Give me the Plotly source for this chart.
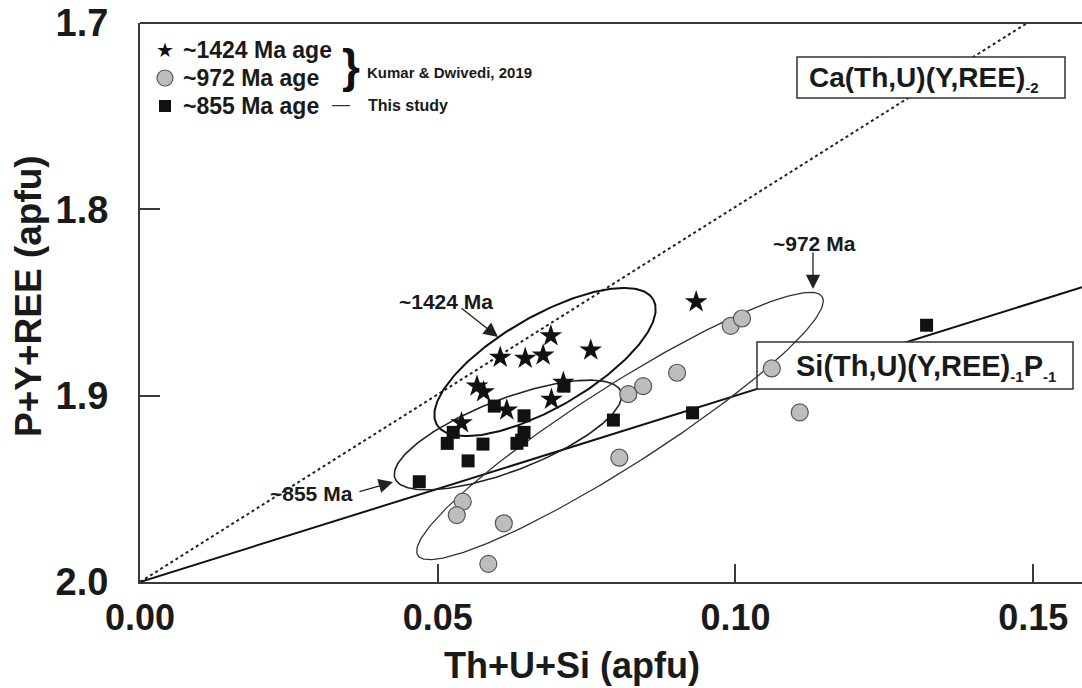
import numpy as np
import plotly.graph_objects as go

# ---------------- data ----------------
star_x = [0.0690, 0.0605, 0.0647, 0.0677, 0.0757, 0.0566, 0.0577, 0.0711, 0.0691, 0.0616, 0.0540, 0.0934]
star_y = [1.8679, 1.8795, 1.8800, 1.8783, 1.8756, 1.8949, 1.8980, 1.8929, 1.9020, 1.9078, 1.9146, 1.8497]

circ_x = [0.0992, 0.1011, 0.1061, 0.1108, 0.0902, 0.0845, 0.0820, 0.0805, 0.0542, 0.0532, 0.0611, 0.0585]
circ_y = [1.8625, 1.8586, 1.8854, 1.9090, 1.8877, 1.8949, 1.8992, 1.9333, 1.9569, 1.9641, 1.9685, 1.9903]

sq_x = [0.0712, 0.0595, 0.0645, 0.0526, 0.0516, 0.0576, 0.0645, 0.0641, 0.0633, 0.0551, 0.0469, 0.0795, 0.0928, 0.1321]
sq_y = [1.8949, 1.9056, 1.9108, 1.9197, 1.9256, 1.9260, 1.9197, 1.9239, 1.9256, 1.9350, 1.9462, 1.9131, 1.9092, 1.8622]

# reference substitution vectors (end points)
ca_line_x = [0.0, 0.1490]
ca_line_y = [2.0, 1.7000]
si_line_x = [0.0, 0.1582]
si_line_y = [2.0, 1.8418]

x_ticks = [0.00, 0.05, 0.10, 0.15]
x_tick_text = ["0.00", "0.05", "0.10", "0.15"]
y_ticks = [1.7, 1.8, 1.9, 2.0]
y_tick_text = ["1.7", "1.8", "1.9", "2.0"]

series_names = ["~1424 Ma age", "~972 Ma age", "~855 Ma age"]

# ---------------- layout geometry ----------------
W, H = 1082, 688
ML, MR, MT, MB = 140, 0, 23, 106
X_RANGE = [0, 0.1582]
Y_RANGE = [2.0, 1.7]
pw = W - ML - MR
ph = H - MT - MB
ppx = pw / (X_RANGE[1] - X_RANGE[0])
ppy = ph / abs(Y_RANGE[0] - Y_RANGE[1])


def px2x(px):
    return X_RANGE[0] + (px - ML) / ppx


def py2y(py):
    return Y_RANGE[1] + (py - MT) / ppy


def pxp(px):
    return (px - ML) / pw


def pyp(py):
    return (MT + ph - py) / ph


FONT = "Liberation Sans, Arial, sans-serif"
AX = "#3a3a3a"
TXT = "#1a1a1a"


def ellipse(cx, cy, a_px, b_px, ang_deg, n=240):
    t = np.linspace(0, 2 * np.pi, n)
    th = np.deg2rad(ang_deg)
    dx = a_px * np.cos(t) * np.cos(th) - b_px * np.sin(t) * np.sin(th)
    dy = a_px * np.cos(t) * np.sin(th) + b_px * np.sin(t) * np.cos(th)
    return px2x(cx + dx), py2y(cy - dy)


fig = go.Figure()

# ellipses (group outlines), centre / half-axes in pixels
for (cx, cy, a, b, ang, w, col) in [
    (545, 362, 125, 46, 30, 2.0, "#111111"),
    (508, 435, 121, 36, 21, 1.6, "#222222"),
    (620, 426, 240, 40, 32.6, 1.3, "#333333"),
]:
    ex, ey = ellipse(cx, cy, a, b, ang)
    fig.add_trace(go.Scatter(x=ex, y=ey, mode="lines", line=dict(color=col, width=w),
                             showlegend=False, hoverinfo="skip"))

fig.add_trace(go.Scatter(x=circ_x, y=circ_y, mode="markers", name=series_names[1], showlegend=False,
                         marker=dict(symbol="circle", size=17, color="#bdbdbd",
                                     line=dict(color="#555555", width=1.2))))
fig.add_trace(go.Scatter(x=star_x, y=star_y, mode="markers", name=series_names[0], showlegend=False,
                         marker=dict(symbol="star", size=17, color="#111111", line=dict(width=0))))
fig.add_trace(go.Scatter(x=sq_x, y=sq_y, mode="markers", name=series_names[2], showlegend=False,
                         marker=dict(symbol="square", size=13, color="#111111", line=dict(width=0))))

shapes = [
    dict(type="line", xref="x", yref="y", x0=ca_line_x[0], y0=ca_line_y[0], x1=ca_line_x[1], y1=ca_line_y[1],
         line=dict(color="#222222", width=2, dash="dot"), layer="below"),
    dict(type="line", xref="x", yref="y", x0=si_line_x[0], y0=si_line_y[0], x1=si_line_x[1], y1=si_line_y[1],
         line=dict(color="#111111", width=2), layer="below"),
    # label boxes (white, hide the vectors behind them)
    dict(type="rect", xref="x", yref="y", x0=px2x(797), x1=px2x(1065), y0=py2y(57), y1=py2y(98),
         fillcolor="white", line=dict(color="#333333", width=1.5), layer="below"),
    dict(type="rect", xref="x", yref="y", x0=px2x(757), x1=px2x(1073), y0=py2y(342), y1=py2y(389),
         fillcolor="white", line=dict(color="#333333", width=1.5), layer="below"),
    # top frame
    dict(type="line", xref="paper", yref="paper", x0=0, x1=1, y0=1, y1=1,
         line=dict(color=AX, width=2)),
    # legend symbols: circle and square
    dict(type="circle", xref="paper", yref="paper", xsizemode="pixel", ysizemode="pixel",
         xanchor=pxp(165), yanchor=pyp(78), x0=-8, x1=8, y0=-8, y1=8,
         fillcolor="#bdbdbd", line=dict(color="#555555", width=1.2)),
    dict(type="rect", xref="paper", yref="paper", xsizemode="pixel", ysizemode="pixel",
         xanchor=pxp(165), yanchor=pyp(106), x0=-6, x1=6, y0=-6, y1=6,
         fillcolor="#111111", line=dict(width=0)),
]

ann = []
lab_font = dict(family=FONT, size=21, color=TXT, weight="bold")


def note(text, px, py, font, xanchor="center", yanchor="middle", **kw):
    ann.append(dict(x=pxp(px), y=pyp(py), xref="paper", yref="paper", text=text, showarrow=False,
                    xanchor=xanchor, yanchor=yanchor, font=font, **kw))


# group labels (pixel centres)
for txt, px, py in [("~1424 Ma", 446, 301), ("~972 Ma", 814, 243), ("~855 Ma", 311, 493)]:
    note(txt, px, py, lab_font)
# arrows (tail -> head, pixels)
for (tx, ty, hx, hy) in [(460, 307, 498, 337), (813, 251, 813, 289), (358, 492, 393, 482)]:
    ann.append(dict(x=px2x(hx), y=py2y(hy), ax=px2x(tx), ay=py2y(ty), xref="x", yref="y",
                    axref="x", ayref="y", text="", showarrow=True, arrowhead=2, arrowsize=2.2,
                    arrowwidth=1.3, arrowcolor="#222222"))
# box texts
note("Ca(Th,U)(Y,REE)<sub><span style='font-size:15px'>-2</span></sub>", 807, 79,
     dict(family=FONT, size=28, color=TXT, weight="bold"), xanchor="left")
note("Si(Th,U)(Y,REE)<sub><span style='font-size:15px'>-1</span></sub>P"
     "<sub><span style='font-size:15px'>-1</span></sub>", 794, 368,
     dict(family=FONT, size=29, color=TXT, weight="bold"), xanchor="left")

# manual legend
note("★", 165, 50, dict(family="DejaVu Sans", size=20, color="#111111"))
for name, py in zip(series_names, [50, 78, 106]):
    note(name, 181, py, dict(family=FONT, size=23, color=TXT, weight="bold"), xanchor="left")
note("}", 351, 66, dict(family=FONT, size=46, color="#111111", weight="bold"))
note("Kumar & Dwivedi, 2019", 365, 72, dict(family=FONT, size=15, color=TXT, weight="bold"), xanchor="left")
note("—", 341, 104, dict(family=FONT, size=18, color="#333333"))
note("This study", 366, 106, dict(family=FONT, size=16, color=TXT, weight="bold"), xanchor="left")

# axis titles
note("Th+U+Si (apfu)", 572, 665, dict(family=FONT, size=36, color=TXT, weight="bold"))
note("P+Y+REE (apfu)", 28, 296, dict(family=FONT, size=37, color=TXT, weight="bold"), textangle=-90)

fig.update_layout(
    width=W, height=H,
    margin=dict(l=ML, r=MR, t=MT, b=MB, autoexpand=False),
    paper_bgcolor="white", plot_bgcolor="white",
    shapes=shapes, annotations=ann,
    showlegend=False,
    xaxis=dict(range=X_RANGE, tickvals=x_ticks, ticktext=x_tick_text, ticks="inside", ticklen=18,
               tickwidth=1.5, tickcolor=AX, showline=True, linecolor=AX, linewidth=2, showgrid=False,
               zeroline=False, ticklabelstandoff=3, automargin=False,
               tickfont=dict(family=FONT, size=36, color=TXT, weight="bold")),
    yaxis=dict(range=Y_RANGE, tickvals=y_ticks, ticktext=y_tick_text, ticks="inside", ticklen=20,
               tickwidth=1.5, tickcolor=AX, showline=True, linecolor=AX, linewidth=2, showgrid=False,
               zeroline=False, ticklabelstandoff=22, automargin=False,
               tickfont=dict(family=FONT, size=38, color=TXT, weight="bold")),
)

fig.write_html("out.html", config={"displayModeBar": False},
               post_script="document.body.style.margin='0px';document.body.style.overflow='hidden';")
